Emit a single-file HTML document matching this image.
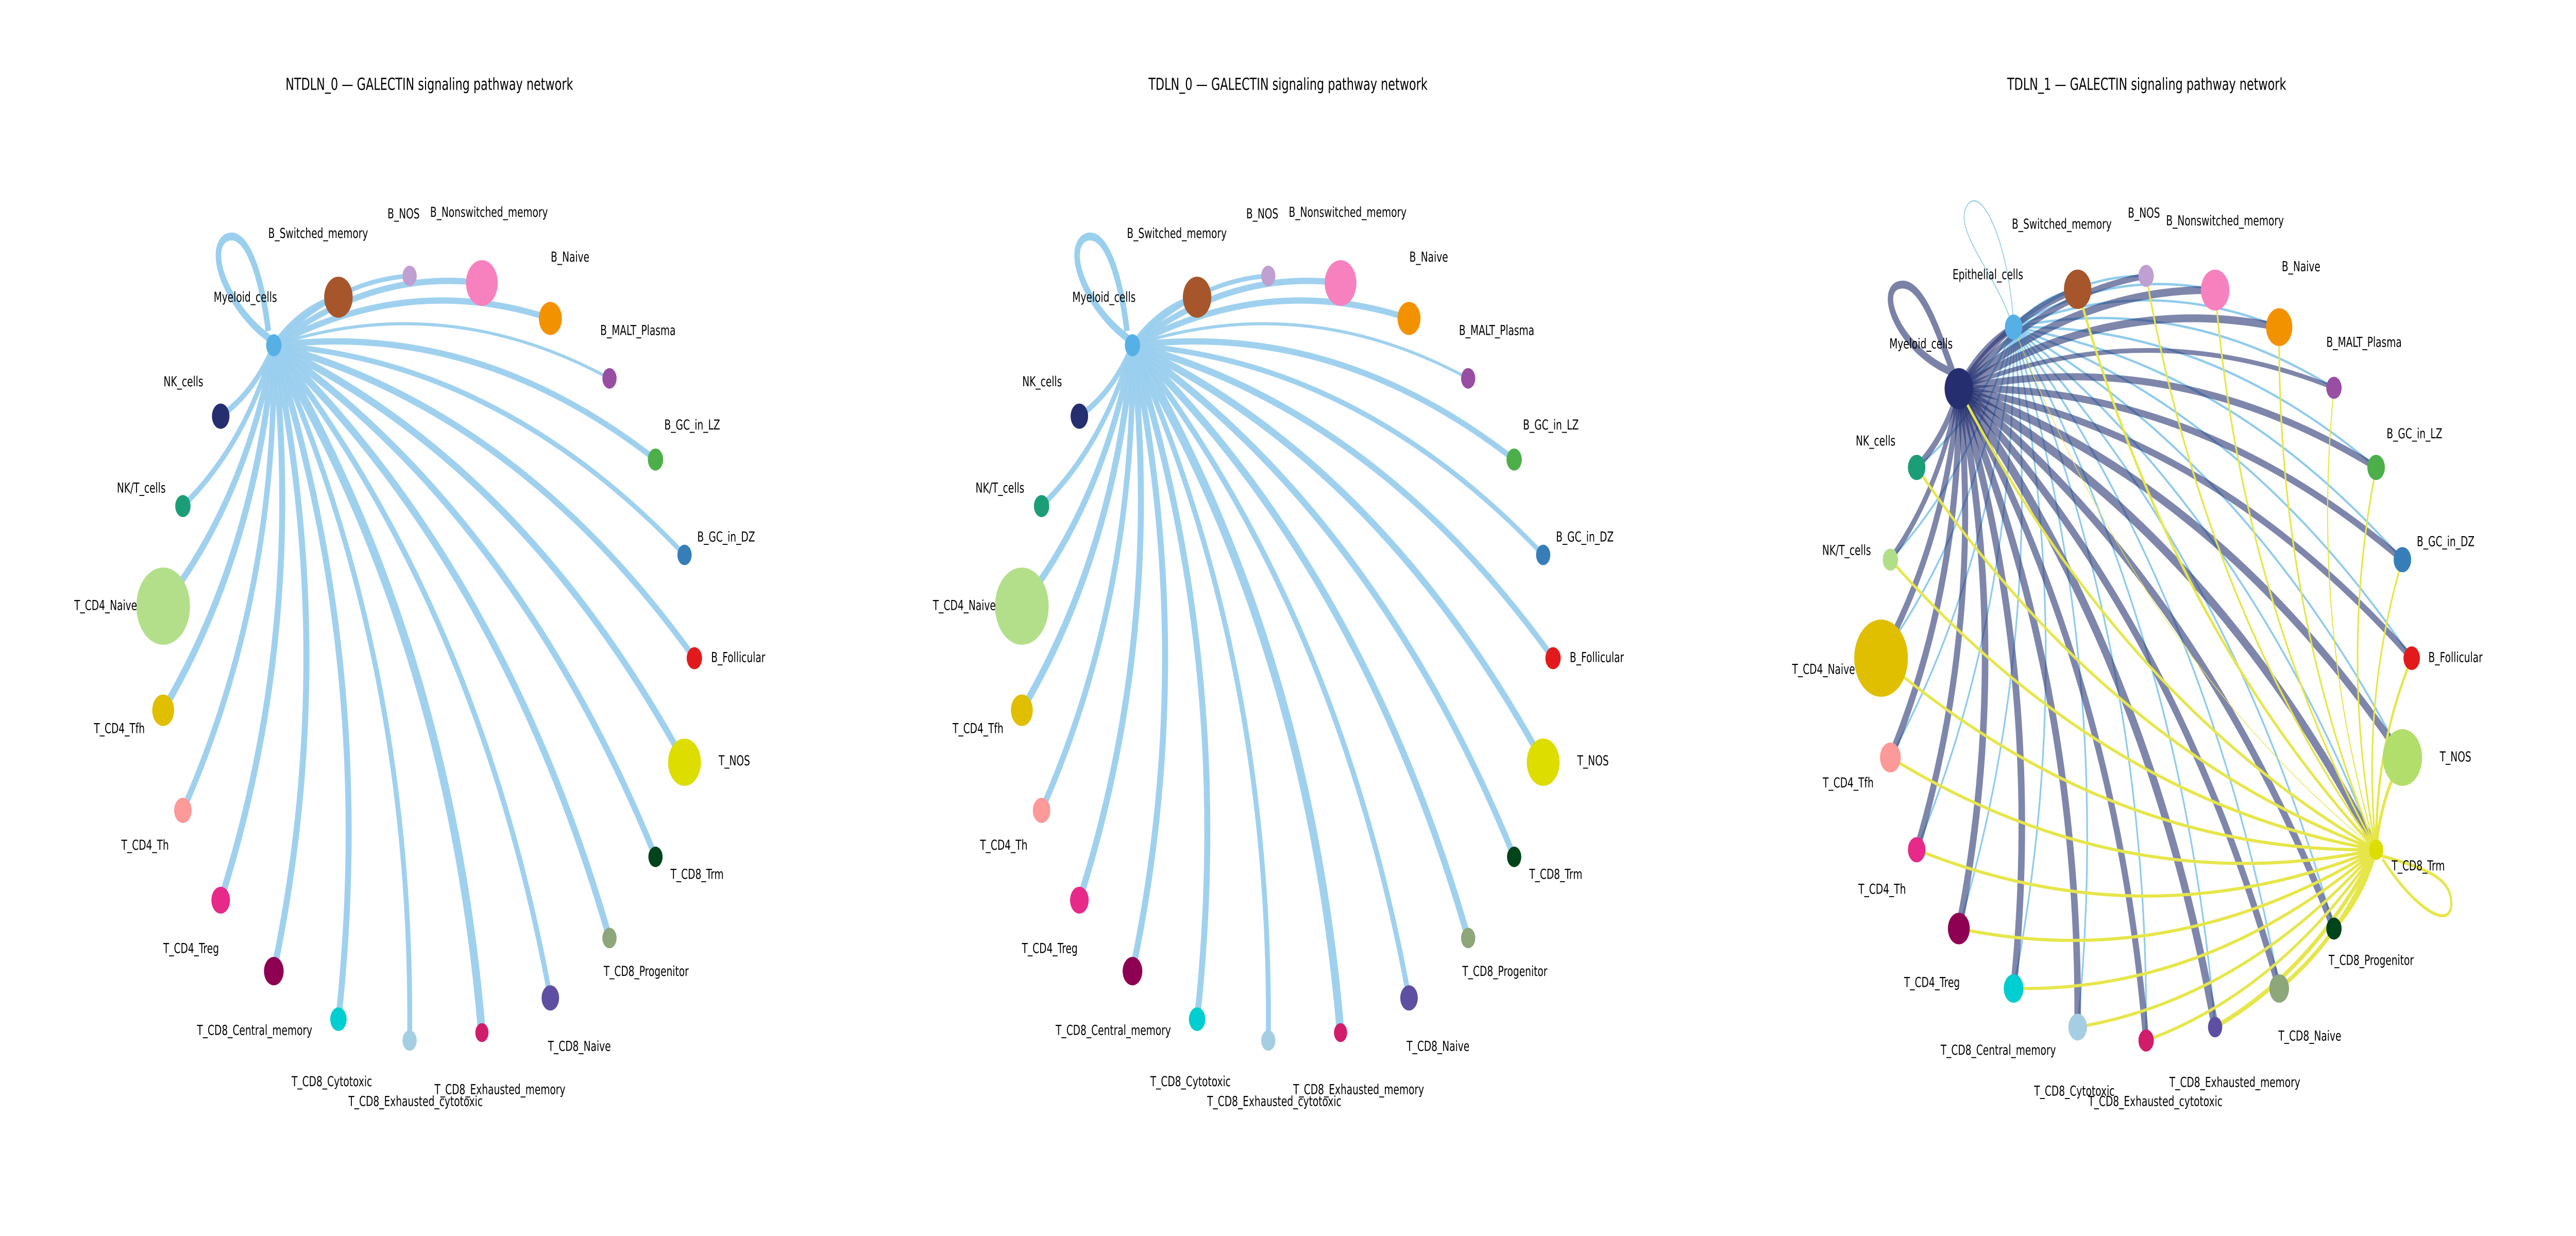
<!DOCTYPE html>
<html><head><meta charset="utf-8">
<style>
html,body{margin:0;padding:0;background:#fff;width:100%;height:100%;overflow:hidden;}
#s{position:fixed;left:0;top:0;width:100vw;height:100vh;display:block;}
text{font-family:"DejaVu Sans","Liberation Sans",sans-serif;fill:#000;}
</style></head>
<body>
<svg id="s" xmlns="http://www.w3.org/2000/svg" viewBox="0 0 7200 2400" preserveAspectRatio="none">
<g id="p1" transform="translate(0,0) scale(1.5306)"></g>
<g id="p2" transform="translate(2400,0) scale(1.5306)"></g>
<g id="p3" transform="translate(4800,0) scale(1.5306)"></g>
</svg>
<script>
var NS="http://www.w3.org/2000/svg";
function el(svg,tag,attrs,txt){var e=document.createElementNS(NS,tag);for(var k in attrs)e.setAttribute(k,attrs[k]);if(txt)e.textContent=txt;svg.appendChild(e);return e;}
function curve(a,b,f){var dx=b[0]-a[0],dy=b[1]-a[1];var mx=(a[0]+b[0])/2,my=(a[1]+b[1])/2;var cx=mx+f*dy,cy=my-f*dx;return "M"+a[0]+","+a[1]+" Q"+cx+","+cy+" "+b[0]+","+b[1];}
var N1=[
["Myeloid_cells",500,438,13,"#56B0E6",448,377,0],
["B_Switched_memory",618,377,26,"#A6562A",581,296,8],
["B_NOS",748,350,13,"#C0A0D0",737,271,6],
["B_Nonswitched_memory",880,359,29,"#F781BF",893,269,8],
["B_Naive",1005,404,21,"#F39200",1041,326,8],
["B_MALT_Plasma",1113,480,13,"#984EA3",1165,419,4],
["B_GC_in_LZ",1197,583,14,"#4DAF4A",1264,539,8],
["B_GC_in_DZ",1250,704,13,"#377EB8",1326,681,7],
["B_Follicular",1268,835,14,"#E31A1C",1348,834,9],
["T_NOS",1250,967,30,"#DDDD00",1341,965,10],
["T_CD8_Trm",1197,1087,13,"#00441B",1273,1109,10],
["T_CD8_Progenitor",1113,1190,13,"#8DA67A",1180,1232,11],
["T_CD8_Naive",1005,1266,16,"#5E4FA2",1058,1327,9],
["T_CD8_Exhausted_memory",880,1310,12,"#D01C6B",913,1382,14],
["T_CD8_Exhausted_cytotoxic",748,1320,13,"#A6CEE3",759,1397,9],
["T_CD8_Cytotoxic",618,1293,15,"#00CED1",606,1372,11],
["T_CD8_Central_memory",500,1232,18,"#8E0152",465,1307,11],
["T_CD4_Treg",403,1142,17,"#E7298A",349,1203,11],
["T_CD4_Th",334,1028,16,"#FB9A99",265,1072,10],
["T_CD4_Tfh",298,901,20,"#E0BE00",218,924,11],
["T_CD4_Naive",298,769,49,"#B3DF8A",193,768,10],
["NK/T_cells",334,642,14,"#1B9E77",258,619,8],
["NK_cells",403,528,16,"#252E6E",335,484,8]];
function panel12(id,title){
 var s=document.getElementById(id);
 el(s,"text",{x:784,y:114,"font-size":21,"text-anchor":"middle"},title);
 var hub=[N1[0][1],N1[0][2]];
 el(s,"path",{d:"M497,432 C420,395 375,320 412,302 C450,288 478,350 490,420",fill:"none",stroke:"#9ACFEE","stroke-width":10});
 for(var i=1;i<N1.length;i++){var n=N1[i];el(s,"path",{d:curve(hub,[n[1],n[2]],0.15),fill:"none",stroke:"#9ACFEE","stroke-width":n[7],"stroke-opacity":0.95});}
 for(var i=0;i<N1.length;i++){var n=N1[i];el(s,"circle",{cx:n[1],cy:n[2],r:n[3],fill:n[4]});}
 el(s,"circle",{cx:500,cy:438,r:14,fill:"#56B0E6"});
 for(var i=0;i<N1.length;i++){var n=N1[i];el(s,"text",{x:n[5],y:n[6]+6,"font-size":17.5,"text-anchor":"middle"},n[0]);}
}
panel12("p1","NTDLN_0 \u2014 GALECTIN signaling pathway network");
panel12("p2","TDLN_0 \u2014 GALECTIN signaling pathway network");
var N3=[
["Myeloid_cells",441,493,26,"#252E6E",372,436,0,0],
["Epithelial_cells",541,415,16,"#56B0E6",494,348,0,4],
["B_Switched_memory",658,367,25,"#A6562A",629,284,9,0],
["B_NOS",783,350,14,"#C0A0D0",779,270,8,3],
["B_Nonswitched_memory",909,368,26,"#F781BF",927,280,10,3],
["B_Naive",1026,415,24,"#F39200",1066,338,10,3],
["B_MALT_Plasma",1126,492,14,"#984EA3",1181,434,6,2],
["B_GC_in_LZ",1203,593,16,"#4DAF4A",1273,550,9,3],
["B_GC_in_DZ",1251,710,16,"#377EB8",1330,687,9,3],
["B_Follicular",1268,835,15,"#E31A1C",1348,834,9,4],
["T_NOS",1251,961,36,"#B2DE6C",1348,960,11,5],
["T_CD8_Trm",1203,1078,13,"#DDDD00",1280,1098,12,0],
["T_CD8_Progenitor",1126,1178,14,"#00441B",1194,1218,11,6],
["T_CD8_Naive",1026,1254,18,"#8DA67A",1082,1314,11,6],
["T_CD8_Exhausted_memory",909,1303,13,"#5E4FA2",945,1373,13,6],
["T_CD8_Exhausted_cytotoxic",783,1320,14,"#D01C6B",800,1397,11,4],
["T_CD8_Cytotoxic",658,1303,17,"#A6CEE3",652,1384,12,4],
["T_CD8_Central_memory",541,1254,18,"#00CED1",513,1332,12,4],
["T_CD4_Treg",441,1178,20,"#8E0152",392,1246,12,4],
["T_CD4_Th",364,1078,16,"#E7298A",301,1128,11,4],
["T_CD4_Tfh",316,961,19,"#FB9A99",239,993,11,4],
["T_CD4_Naive",299,835,49,"#E0BE00",194,849,10,4],
["NK/T_cells",316,710,14,"#B2DE88",236,698,8,4],
["NK_cells",364,593,16,"#1B9E77",289,559,9,4]];
(function(){
 var s=document.getElementById("p3");
 el(s,"text",{x:784,y:114,"font-size":21,"text-anchor":"middle"},"TDLN_1 \u2014 GALECTIN signaling pathway network");
 var my=[441,493],ep=[541,415],tr=[1203,1078];
 el(s,"path",{d:"M535,405 C505,345 432,292 455,262 C480,232 528,300 540,400",fill:"none",stroke:"#8FCBEC","stroke-width":1.5});
 for(var i=0;i<N3.length;i++){var n=N3[i];if(i==1)continue;el(s,"path",{d:curve(ep,[n[1],n[2]],0.14),fill:"none",stroke:"#8FCBEC","stroke-width":3});}
 el(s,"path",{d:"M428,472 C335,445 292,372 330,362 C372,352 402,420 432,475",fill:"none",stroke:"rgba(35,46,110,0.6)","stroke-width":10});
 for(var i=1;i<N3.length;i++){var n=N3[i];el(s,"path",{d:curve(my,[n[1],n[2]],0.14),fill:"none",stroke:"rgba(35,46,110,0.58)","stroke-width":n[7]||9});}
 el(s,"path",{d:"M1210,1085 C1280,1100 1345,1110 1340,1150 C1335,1180 1270,1150 1215,1090",fill:"none",stroke:"#E6E64A","stroke-width":4});
 for(var i=0;i<N3.length;i++){var n=N3[i];if(i==11)continue;var w=i==1?1:(n[8]||4);el(s,"path",{d:curve(tr,[n[1],n[2]],0.14),fill:"none",stroke:"#E6E64A","stroke-width":w});}
 for(var i=0;i<N3.length;i++){var n=N3[i];el(s,"circle",{cx:n[1],cy:n[2],r:n[3],fill:n[4]});}
 for(var i=0;i<N3.length;i++){var n=N3[i];el(s,"text",{x:n[5],y:n[6]+6,"font-size":17.5,"text-anchor":"middle"},n[0]);}
})();
</script>
</body></html>
